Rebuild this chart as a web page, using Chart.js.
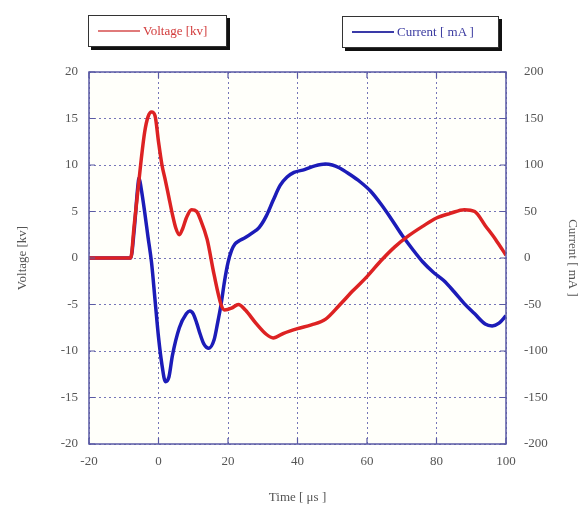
<!DOCTYPE html>
<html>
<head>
<meta charset="utf-8">
<script src="https://cdn.jsdelivr.net/npm/chart.js@4"></script>
<style>
  html, body { margin: 0; padding: 0; background: #fff; }
  #wrap { position: relative; width: 586px; height: 509px; }
  #chart { position: absolute; left: 0; top: 0; }
  .lg { position: absolute; background: #fff; border: 1px solid #333; box-shadow: 3px 3px 0 #111;
        font-family: "Liberation Serif", serif; font-size: 13px; display: flex; align-items: center; }
  .lg .ln { display: inline-block; width: 42px; height: 2px; margin: 0 3px 0 9px; }
</style>
</head>
<body>
<div id="wrap">
  <canvas id="chart" width="586" height="509"></canvas>
  <div class="lg" style="left:88px;top:15px;width:137px;height:30px;color:#d23a3a">
    <span class="ln" style="background:#e07a7a"></span>Voltage [kv]
  </div>
  <div class="lg" style="left:342px;top:16px;width:155px;height:30px;color:#3a3aa0">
    <span class="ln" style="background:#3a3aa8"></span>Current [ mA ]
  </div>
</div>
<script>
// time in microseconds
const timeV   = [-20, -15, -10, -8, -7, -6, -5, -4, -3, -2, -1, 0, 1, 2, 3, 4, 5, 6, 7, 8, 9.5, 11, 12, 14, 16, 18, 19, 21, 23, 25, 28, 31, 33, 36, 40, 44, 48, 52, 56, 60, 64, 68, 72, 76, 80, 84, 88, 91, 94, 97, 100];
const voltage = [0, 0, 0, 0, 3.5, 7, 10.5, 13.5, 15.2, 15.7, 15.3, 12.5, 10, 8.3, 6.5, 4.7, 3.2, 2.5, 3.2, 4.3, 5.2, 5, 4.2, 2, -1.8, -5, -5.6, -5.4, -5.0, -5.6, -7, -8.2, -8.6, -8.1, -7.6, -7.2, -6.6, -5.1, -3.5, -2, -0.3, 1.2, 2.4, 3.4, 4.3, 4.8, 5.2, 5.0, 3.5, 2.0, 0.3];

const timeI   = [-20, -15, -10, -8, -7, -6, -5.6, -5, -4, -3, -2, -1, 0, 1, 2, 3, 4, 6, 8, 9, 10, 11, 12, 13, 14.5, 16, 17, 18, 19, 20, 21, 22, 23, 25, 27, 29, 31, 33, 35, 37, 39, 42, 45, 48, 50, 52, 55, 58, 61, 64, 67, 70, 73, 76, 79, 82, 85, 88, 91, 94, 96, 98, 100];
const current = [0, 0, 0, 0, 30, 75, 86, 75, 50, 22, -5, -45, -85, -115, -133, -128, -105, -75, -60, -57, -60, -70, -82, -92, -97, -88, -70, -50, -25, -5, 8, 15, 18, 22, 27, 33, 45, 62, 78, 87, 92, 95, 99, 101, 100, 97, 90, 82, 72, 58, 42, 25, 10, -4, -15, -24, -36, -49, -60, -71, -73, -70, -62];

const xTicks = [-20, 0, 20, 40, 60, 80, 100];

const tickFont = { family: 'Liberation Serif', size: 13 };
const gridCol = '#7676b8';
const frameCol = '#5a5aa4';

const frame = {
  id: 'frame',
  beforeDraw(c) {
    const { ctx, chartArea: a } = c;
    ctx.save();
    ctx.fillStyle = '#fffffa';
    ctx.fillRect(a.left, a.top, a.right - a.left, a.bottom - a.top);
    ctx.restore();
  },
  afterDatasetsDraw(c) {
    const { ctx, chartArea: a, scales } = c;
    ctx.save();
    ctx.strokeStyle = frameCol;
    ctx.lineWidth = 1.5;
    ctx.strokeRect(a.left, a.top, a.right - a.left, a.bottom - a.top);
    ctx.lineWidth = 1.2;
    ctx.beginPath();
    scales.y.ticks.forEach(t => {
      const p = scales.y.getPixelForValue(t.value);
      ctx.moveTo(a.left, p); ctx.lineTo(a.left + 6, p);
    });
    scales.y1.ticks.forEach(t => {
      const p = scales.y1.getPixelForValue(t.value);
      ctx.moveTo(a.right, p); ctx.lineTo(a.right - 6, p);
    });
    scales.x.ticks.forEach(t => {
      const p = scales.x.getPixelForValue(t.value);
      ctx.moveTo(p, a.bottom); ctx.lineTo(p, a.bottom - 6);
      ctx.moveTo(p, a.top); ctx.lineTo(p, a.top + 6);
    });
    ctx.stroke();
    ctx.restore();
  }
};

new Chart(document.getElementById('chart'), {
  type: 'line',
  data: {
    datasets: [
      {
        label: 'Voltage [kv]', yAxisID: 'y',
        data: timeV.map((t, i) => ({ x: t, y: voltage[i] })),
        borderColor: '#dd2222', borderWidth: 3.5, pointRadius: 0,
        cubicInterpolationMode: 'monotone'
      },
      {
        label: 'Current [ mA ]', yAxisID: 'y1',
        data: timeI.map((t, i) => ({ x: t, y: current[i] })),
        borderColor: '#1c1cb8', borderWidth: 3.5, pointRadius: 0,
        cubicInterpolationMode: 'monotone'
      }
    ]
  },
  options: {
    responsive: false, animation: false,
    layout: { padding: { top: 72 } },
    plugins: { legend: { display: false }, tooltip: { enabled: false } },
    scales: {
      x: {
        type: 'linear', min: -20, max: 100,
        afterBuildTicks: s => { s.ticks = xTicks.map(v => ({ value: v })); },
        afterFit: s => { s.height = 65; },
        grid: { color: gridCol, lineWidth: 1, drawTicks: false },
        border: { display: false, dash: [2, 3] },
        ticks: { color: '#555', font: tickFont, padding: 10 },
        title: { display: true, text: 'Time [ μs ]', color: '#555', font: tickFont, padding: { top: 0, bottom: 4 } }
      },
      y: {
        position: 'left', min: -20, max: 20,
        afterFit: s => { s.width = 89; },
        grid: { color: gridCol, lineWidth: 1, drawTicks: false },
        border: { display: false, dash: [2, 3] },
        ticks: { stepSize: 5, color: '#555', font: tickFont, padding: 11 },
        title: { display: true, text: 'Voltage [kv]', color: '#555', font: tickFont, padding: { top: 15, bottom: 0 } }
      },
      y1: {
        position: 'right', min: -200, max: 200,
        afterFit: s => { s.width = 80; },
        grid: { display: false },
        border: { display: false },
        ticks: { stepSize: 50, color: '#555', font: tickFont, padding: 10 },
        title: { display: true, text: 'Current [ mA ]', color: '#555', font: tickFont, padding: { top: 6, bottom: 0 } }
      }
    }
  },
  plugins: [frame]
});

// dotted grid lines
Chart.defaults.borderColor = gridCol;
</script>
</body>
</html>
